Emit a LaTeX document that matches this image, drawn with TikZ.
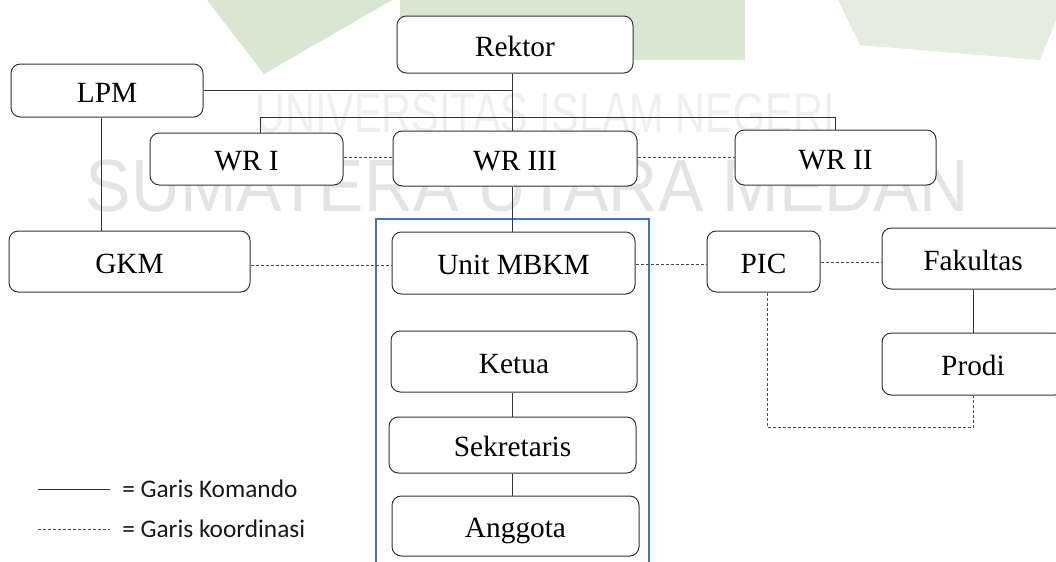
\documentclass[tikz,border=0pt]{standalone}
\usepackage{fontspec}
\setmainfont{Liberation Serif}
\newfontfamily\legendfont{Carlito}
\newfontfamily\markfont{Liberation Sans}
\definecolor{markgreen}{RGB}{216,230,210}
\definecolor{markgray}{RGB}{228,228,228}
\definecolor{unitblue}{RGB}{68,114,196}
\tikzset{
  box/.style={draw=black!80, line width=0.75pt, rounded corners=7pt, fill=white,
              inner sep=0pt, align=center, text height=17.6pt, text depth=0pt,
              font=\fontsize{22}{26}\selectfont},
  command/.style={draw=black!80, line width=0.6pt},
  coordline/.style={draw=black!70, line width=0.6pt, dash pattern=on 2.25pt off 1.5pt},
  legendtext/.style={anchor=west, inner sep=0pt, text=black!90,
              font=\legendfont\fontsize{19}{22}\selectfont},
  marktext/.style={text=markgray, inner sep=0pt, font=\markfont\bfseries},
}
\begin{document}
\begin{tikzpicture}[x=0.75pt,y=-0.75pt]
\useasboundingbox (0,0) rectangle (1056,561);
\clip (0,0) rectangle (1056,561);

% faint background emblem
\fill[markgreen] (207,0) -- (392,0) -- (264,74) -- cycle;
\fill[markgreen] (400,0) rectangle (745,60);
\fill[markgreen!70!white] (838,0) -- (1056,0) -- (1056,20) -- (1040,60) -- (860,45) -- cycle;
\node[marktext, font=\markfont\fontsize{42}{42}\selectfont, text=markgray!60!white] (mark1) at (545,113)
  {\scalebox{0.74}[1]{UNIVERSITAS ISLAM NEGERI}};
\node[marktext, font=\markfont\fontsize{55.5}{56}\selectfont] (mark2) at (527,186)
  {\scalebox{0.92}[1]{SUMATERA UTARA MEDAN}};

% MBKM unit frame
\draw[unitblue, line width=1.1pt] (376,570) -- (376,219) -- (649,219) -- (649,570);

% boxes
\node[box, minimum width=177pt,    minimum height=42.75pt] (rektor) at (515,44.5)  {Rektor};
\node[box, minimum width=144pt,    minimum height=39.75pt] (lpm)    at (107,90.5)   {LPM};
\node[box, minimum width=144.75pt, minimum height=39pt]    (wr1)    at (246.5,159)  {WR I};
\node[box, minimum width=183pt,    minimum height=41.25pt] (wr3)    at (515,158.5)  {WR III};
\node[box, minimum width=150.75pt, minimum height=41.25pt] (wr2)    at (835.5,157.5){WR II};
\node[box, minimum width=180.75pt, minimum height=45.75pt] (gkm)    at (129.5,261.5){GKM};
\node[box, minimum width=182.25pt, minimum height=46.5pt]  (unit)   at (513.5,263)  {Unit MBKM};
\node[box, minimum width=84.75pt,  minimum height=45.75pt] (pic)    at (763.5,261.5){PIC};
\node[box, minimum width=136.5pt,  minimum height=45.75pt] (fak)    at (973,258.5)  {Fakultas};
\node[box, minimum width=184.5pt,  minimum height=45.75pt] (ketua)  at (514,361.5)  {Ketua};
\node[box, minimum width=185.25pt, minimum height=42pt]    (sekr)   at (512.5,445)  {Sekretaris};
\node[box, minimum width=185.25pt, minimum height=45pt]    (angg)   at (515.5,526)  {Anggota};
\node[box, minimum width=136.5pt,  minimum height=46.5pt]  (prodi)  at (973,364)    {Prodi};

% command lines
\coordinate (spine) at (512,0);
\coordinate (busL) at (260,117);
\coordinate (busR) at (835,117);
\coordinate (lpmx) at (101,0);
\draw[command] (rektor.south -| spine) -- (wr3.north -| spine);
\draw[command] (lpm.east) -- (lpm.east -| spine);
\draw[command] (busL |- wr1.north) -- (busL) -- (busR) -- (busR |- wr2.north);
\draw[command] (lpmx |- lpm.south) -- (lpmx |- gkm.north);
\draw[command] (wr3.south -| spine) -- (unit.north -| spine);
\draw[command] (ketua.south -| spine) -- (sekr.north -| spine);
\draw[command] (sekr.south -| spine) -- (angg.north -| spine);
\draw[command] (fak.south) -- (prodi.north);

% coordination lines
\draw[coordline] (wr1.east |- 0,157) -- (wr3.west |- 0,157);
\draw[coordline] (wr3.east |- 0,157) -- (wr2.west |- 0,157);
\draw[coordline] (gkm.east |- 0,265) -- (unit.west |- 0,265);
\draw[coordline] (unit.east |- 0,264) -- (pic.west |- 0,264);
\draw[coordline] (pic.east |- 0,262) -- (fak.west |- 0,262);
\coordinate (picx) at (767,427);
\draw[coordline] (pic.south -| picx) -- (picx) -- (prodi.south |- picx) -- (prodi.south);

% legend
\coordinate (legA1) at (38,489);
\coordinate (legA2) at (110,489);
\coordinate (legB1) at (38,529);
\coordinate (legB2) at (110,529);
\draw[command] (legA1) -- (legA2);
\draw[coordline] (legB1) -- (legB2);
\node[legendtext] (legA) at (122,489) {= Garis Komando};
\node[legendtext] (legB) at (122,529) {= Garis koordinasi};
\end{tikzpicture}
\end{document}
